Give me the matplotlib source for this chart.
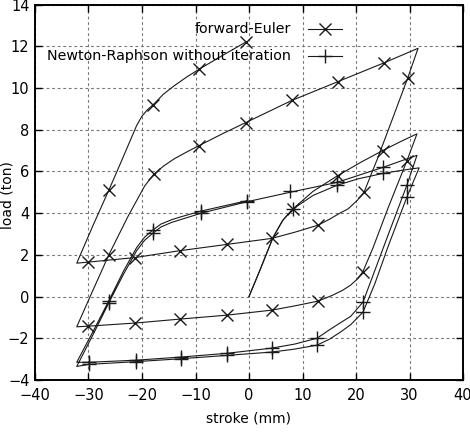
import matplotlib
matplotlib.use("Agg")
import matplotlib.pyplot as plt
from matplotlib.lines import Line2D

# ---------------- data ----------------
# forward-Euler path (stroke mm, load ton)
fe_stroke = [0, 2.1, 4.5, 6.3, 8.2, 12, 16.6, 21, 25, 28.5, 31.4,
             29.5, 26, 23.2, 21.3, 20.3, 19, 17.5, 15.5, 12.9, 8.5, 4.3, -4.1, -12.9, -21.3, -30.1, -32.2,
             -29, -26.2, -22.6, -21, -19.5, -17.8, -16, -14, -11.5, -9.3, -5, -0.6, 8, 16.6, 25.2, 31.6,
             29.7, 26.7, 24, 21.5, 20.2, 18.5, 17, 15, 12.9, 8.5, 4.3, -4.1, -12.9, -21.3, -30.1, -32.2,
             -29, -26.2, -24, -22, -21, -20, -19, -17.9, -16, -14, -11.5, -9.3, -5, -0.6]
fe_load = [0, 1.3, 2.84, 3.65, 4.2, 5.05, 5.8, 6.45, 7.0, 7.45, 7.8,
           6.5, 4.25, 2.35, 1.2, 0.85, 0.55, 0.3, 0.05, -0.22, -0.45, -0.65, -0.89, -1.08, -1.27, -1.42, -1.45,
           0.4, 2.0, 3.85, 4.6, 5.3, 5.86, 6.25, 6.6, 6.95, 7.24, 7.8, 8.34, 9.4, 10.3, 11.2, 11.9,
           10.5, 8.44, 6.6, 5.0, 4.6, 4.2, 4.0, 3.7, 3.42, 3.08, 2.79, 2.5, 2.2, 1.87, 1.65, 1.6,
           3.5, 5.1, 6.4, 7.6, 8.2, 8.65, 8.95, 9.2, 9.7, 10.1, 10.55, 10.9, 11.55, 12.2]
fe_mark_stroke = [8.2, 16.6, 25, 29.5, 21.3, 12.9, 4.3, -4.1, -12.9, -21.3, -30.1,
                  -26.2, -17.8, -9.3, -0.6, 8, 16.6, 25.2, 29.7, 21.5, 12.9, 4.3, -4.1,
                  -12.9, -21.3, -30.1, -26.2, -17.9, -9.3, -0.6]
fe_mark_load = [4.2, 5.8, 7.0, 6.5, 1.2, -0.22, -0.65, -0.89, -1.08, -1.27, -1.42,
                2.0, 5.86, 7.24, 8.34, 9.4, 10.3, 11.2, 10.5, 5.0, 3.42, 2.79, 2.5,
                2.2, 1.87, 1.65, 5.1, 9.2, 10.9, 12.2]

# Newton-Raphson without iteration path
nr_stroke = [0, 2.1, 4.5, 6.3, 8.2, 12, 16.4, 20.5, 25, 28.5, 31.8,
             29.5, 26, 23.5, 21.3, 19, 17, 15, 12.7, 8.5, 4.3, -4.1, -12.7, -21.1, -29.9, -32.2,
             -29, -26.2, -23.5, -21, -19.5, -18, -16.5, -14.5, -12.9, -11, -8.9, -0.3, 7.7, 16.4, 25, 31.4,
             29.5, 26, 23.3, 21.3, 19, 17, 15, 12.7, 8.5, 4.3, -4.1, -12.7, -21.1, -29.9, -32.2,
             -29, -26.2, -23.5, -21, -19.5, -18, -16.5, -14.5, -12.9, -11, -8.9, -0.3]
nr_load = [0, 1.3, 2.84, 3.65, 4.2, 4.85, 5.33, 5.65, 5.9, 6.05, 6.17,
           4.76, 2.4, 0.6, -0.75, -1.35, -1.72, -2.05, -2.33, -2.52, -2.66, -2.82, -2.98, -3.12, -3.25, -3.35,
           -1.75, -0.3, 1.05, 2.2, 2.7, 3.03, 3.33, 3.55, 3.68, 3.83, 4.0, 4.55, 5.0, 5.47, 6.19, 6.77,
           5.33, 2.95, 1.1, -0.27, -0.95, -1.27, -1.6, -2.0, -2.28, -2.47, -2.72, -2.9, -3.05, -3.15, -3.15,
           -1.6, -0.2, 1.2, 2.35, 2.85, 3.18, 3.47, 3.68, 3.81, 3.95, 4.1, 4.6]
nr_mark_stroke = [8.2, 16.4, 25, 29.5, 21.3, 12.7, 4.3, -4.1, -12.7, -21.1, -29.9,
                  -26.2, -18, -8.9, -0.3, 7.7, 16.4, 25, 29.5, 21.3, 12.7, 4.3, -4.1,
                  -12.7, -21.1, -29.9, -26.2, -18, -8.9, -0.3]
nr_mark_load = [4.2, 5.33, 5.9, 4.76, -0.75, -2.33, -2.66, -2.82, -2.98, -3.12, -3.25,
                -0.3, 3.03, 4.0, 4.55, 5.04, 5.47, 6.19, 5.33, -0.27, -2.0, -2.47, -2.72,
                -2.9, -3.05, -3.15, -0.2, 3.18, 4.1, 4.6]

labels = ["forward-Euler", "Newton-Raphson without iteration"]
x_ticks = [-40, -30, -20, -10, 0, 10, 20, 30, 40]
y_ticks = [-4, -2, 0, 2, 4, 6, 8, 10, 12, 14]

# ---------------- figure ----------------
plt.rcParams['font.family'] = ['DejaVu Sans']
fig = plt.figure(figsize=(4.70, 4.32), dpi=100)
ax = fig.add_axes([35/470, 1-380/432, 428/470, 375.5/432])

lc = '#1a1a1a'
ax.plot(fe_stroke, fe_load, color=lc, lw=0.8, zorder=3)
ax.plot(fe_mark_stroke, fe_mark_load, ls='none', marker='x', ms=8.8, mew=1.0,
        color=lc, zorder=4)
ax.plot(nr_stroke, nr_load, color=lc, lw=0.8, zorder=3)
ax.plot(nr_mark_stroke, nr_mark_load, ls='none', marker='+', ms=10, mew=1.0,
        color=lc, zorder=4)

ax.set_xlim(-40, 40)
ax.set_ylim(-4, 14)
ax.set_xticks(x_ticks)
ax.set_yticks(y_ticks)
ax.grid(True, color='#777777', lw=0.8, ls=(0, (2.5, 2.5)))
ax.tick_params(direction='in', length=5, width=1, top=True, right=True,
               labelsize=10.5)
ax.tick_params(axis='x', pad=6)
ax.tick_params(axis='y', pad=4)
for s in ax.spines.values():
    s.set_linewidth(1.4)
ax.set_xlabel("stroke (mm)", fontsize=10)
ax.set_ylabel("load (ton)", fontsize=10)
ax.xaxis.set_label_coords(0.5, -0.085)
ax.yaxis.set_label_coords(-0.047, 0.493)

# gnuplot-style key (text right-aligned, sample to its right)
key_rows = [(0.934, 'x', 8.8), (0.862, '+', 10)]
for (yk, mk, ms), lab in zip(key_rows, labels):
    ax.text(0.598, yk, lab, transform=ax.transAxes, ha='right', va='center',
            fontsize=10.25)
    ax.add_line(Line2D([0.638, 0.717], [yk, yk], transform=ax.transAxes,
                       color=lc, lw=0.8))
    ax.add_line(Line2D([0.678], [yk], transform=ax.transAxes, ls='none',
                       marker=mk, ms=ms, mew=1.0, color=lc))

fig.savefig("out.png", dpi=100)
